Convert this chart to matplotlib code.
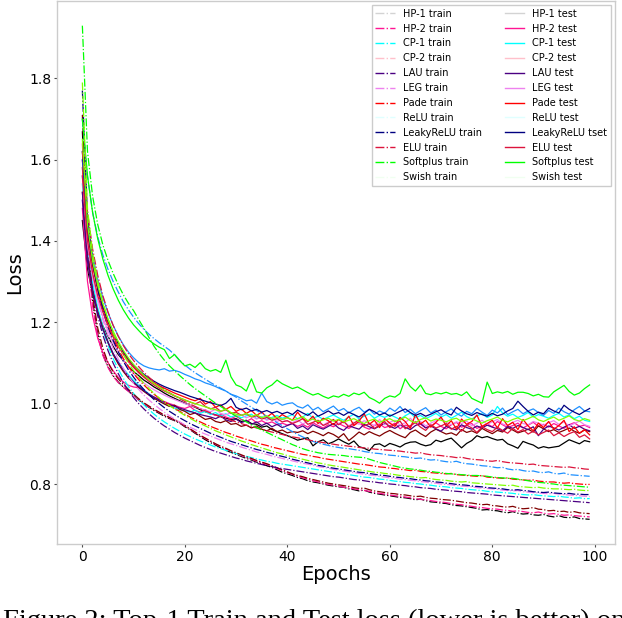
import matplotlib
matplotlib.use("Agg")
import matplotlib.pyplot as plt
from matplotlib.lines import Line2D

# epochs 0..99
epochs = list(range(100))

names = ["HP-1", "HP-2", "CP-1", "CP-2", "LAU", "LEG",
         "Pade", "ReLU", "LeakyReLU", "ELU", "Softplus", "Swish"]

# colours used for the curves
line_colors = ["black", "deeppink", "cyan", "maroon", "indigo", "violet",
               "red", "dodgerblue", "navy", "crimson", "lime", "chartreuse"]

# colours shown in the legend (they differ from the curves in the original)
legend_colors = ["lightgray", "deeppink", "cyan", "pink", "indigo", "violet",
                 "red", "lightcyan", "navy", "crimson", "lime", "honeydew"]

test_labels = ["HP-1 test", "HP-2 test", "CP-1 test", "CP-2 test", "LAU test",
               "LEG test", "Pade test", "ReLU test", "LeakyReLU tset",
               "ELU test", "Softplus test", "Swish test"]

# ---- train losses ----
hp1_train = [
    1.670, 1.380, 1.250, 1.170, 1.120, 1.090, 1.068, 1.052, 1.040, 1.030,
    1.020, 1.008, 0.998, 0.990, 0.982, 0.975, 0.968, 0.962, 0.957, 0.951,
    0.942, 0.935, 0.926, 0.918, 0.910, 0.903, 0.897, 0.890, 0.884, 0.879,
    0.874, 0.869, 0.864, 0.860, 0.855, 0.851, 0.846, 0.842, 0.836, 0.830,
    0.826, 0.822, 0.817, 0.814, 0.809, 0.806, 0.804, 0.801, 0.798, 0.796,
    0.794, 0.793, 0.789, 0.787, 0.784, 0.786, 0.781, 0.778, 0.776, 0.774,
    0.772, 0.770, 0.768, 0.767, 0.765, 0.762, 0.764, 0.760, 0.757, 0.756,
    0.754, 0.753, 0.750, 0.748, 0.747, 0.745, 0.743, 0.741, 0.737, 0.738,
    0.736, 0.735, 0.732, 0.730, 0.733, 0.729, 0.727, 0.728, 0.725, 0.724,
    0.726, 0.722, 0.720, 0.723, 0.719, 0.718, 0.720, 0.716, 0.715, 0.714]
hp2_train = [
    1.640, 1.360, 1.240, 1.165, 1.118, 1.088, 1.066, 1.051, 1.039, 1.029,
    1.019, 1.008, 0.999, 0.991, 0.984, 0.977, 0.970, 0.964, 0.958, 0.952,
    0.944, 0.936, 0.928, 0.920, 0.913, 0.906, 0.899, 0.893, 0.887, 0.882,
    0.876, 0.871, 0.866, 0.862, 0.857, 0.853, 0.849, 0.844, 0.839, 0.834,
    0.829, 0.825, 0.820, 0.816, 0.813, 0.809, 0.806, 0.803, 0.800, 0.798,
    0.796, 0.793, 0.791, 0.789, 0.787, 0.785, 0.783, 0.780, 0.778, 0.776,
    0.774, 0.772, 0.771, 0.769, 0.767, 0.765, 0.763, 0.762, 0.760, 0.758,
    0.757, 0.755, 0.753, 0.751, 0.750, 0.748, 0.746, 0.744, 0.743, 0.741,
    0.740, 0.739, 0.737, 0.736, 0.734, 0.735, 0.733, 0.731, 0.730, 0.732,
    0.729, 0.727, 0.728, 0.726, 0.724, 0.725, 0.723, 0.722, 0.721, 0.720]
cp1_train = [
    1.560, 1.380, 1.290, 1.228, 1.180, 1.142, 1.110, 1.084, 1.061, 1.041,
    1.024, 1.009, 0.996, 0.984, 0.973, 0.963, 0.954, 0.946, 0.938, 0.931,
    0.924, 0.918, 0.912, 0.907, 0.902, 0.897, 0.892, 0.888, 0.884, 0.880,
    0.876, 0.872, 0.869, 0.866, 0.863, 0.860, 0.857, 0.855, 0.852, 0.850,
    0.848, 0.846, 0.844, 0.842, 0.840, 0.838, 0.836, 0.834, 0.832, 0.830,
    0.828, 0.826, 0.824, 0.822, 0.820, 0.818, 0.817, 0.815, 0.813, 0.812,
    0.810, 0.808, 0.807, 0.805, 0.804, 0.802, 0.801, 0.799, 0.798, 0.796,
    0.795, 0.794, 0.792, 0.791, 0.790, 0.788, 0.787, 0.786, 0.785, 0.783,
    0.782, 0.781, 0.780, 0.779, 0.778, 0.776, 0.775, 0.774, 0.775, 0.773,
    0.772, 0.771, 0.770, 0.771, 0.769, 0.768, 0.766, 0.767, 0.765, 0.765]
cp2_train = [
    1.710, 1.400, 1.265, 1.185, 1.135, 1.100, 1.077, 1.060, 1.046, 1.034,
    1.022, 1.011, 1.001, 0.993, 0.985, 0.978, 0.971, 0.965, 0.959, 0.953,
    0.945, 0.937, 0.929, 0.921, 0.914, 0.907, 0.900, 0.894, 0.889, 0.883,
    0.878, 0.873, 0.868, 0.864, 0.859, 0.855, 0.851, 0.846, 0.841, 0.836,
    0.831, 0.826, 0.822, 0.819, 0.815, 0.812, 0.809, 0.806, 0.803, 0.801,
    0.799, 0.797, 0.795, 0.792, 0.790, 0.791, 0.787, 0.784, 0.782, 0.780,
    0.778, 0.777, 0.775, 0.774, 0.772, 0.770, 0.771, 0.768, 0.766, 0.765,
    0.763, 0.762, 0.761, 0.759, 0.757, 0.755, 0.754, 0.752, 0.750, 0.751,
    0.748, 0.747, 0.745, 0.744, 0.746, 0.742, 0.740, 0.741, 0.743, 0.739,
    0.738, 0.735, 0.736, 0.733, 0.734, 0.731, 0.733, 0.730, 0.729, 0.728]
lau_train = [
    1.520, 1.360, 1.275, 1.215, 1.168, 1.130, 1.099, 1.073, 1.050, 1.031,
    1.014, 0.999, 0.986, 0.974, 0.963, 0.953, 0.944, 0.936, 0.928, 0.921,
    0.914, 0.908, 0.902, 0.896, 0.891, 0.886, 0.881, 0.877, 0.873, 0.869,
    0.865, 0.862, 0.858, 0.855, 0.852, 0.849, 0.846, 0.844, 0.841, 0.839,
    0.837, 0.835, 0.833, 0.831, 0.829, 0.827, 0.825, 0.823, 0.821, 0.819,
    0.818, 0.816, 0.814, 0.812, 0.811, 0.809, 0.807, 0.806, 0.804, 0.803,
    0.801, 0.800, 0.798, 0.797, 0.795, 0.794, 0.792, 0.791, 0.790, 0.788,
    0.787, 0.786, 0.784, 0.783, 0.782, 0.780, 0.779, 0.778, 0.777, 0.776,
    0.774, 0.773, 0.772, 0.771, 0.770, 0.769, 0.768, 0.767, 0.766, 0.765,
    0.764, 0.763, 0.762, 0.761, 0.760, 0.759, 0.758, 0.757, 0.756, 0.755]
leg_train = [
    1.600, 1.420, 1.320, 1.255, 1.205, 1.167, 1.135, 1.109, 1.086, 1.066,
    1.049, 1.034, 1.020, 1.008, 0.997, 0.987, 0.978, 0.969, 0.961, 0.954,
    0.947, 0.941, 0.935, 0.929, 0.924, 0.919, 0.914, 0.909, 0.904, 0.900,
    0.896, 0.892, 0.888, 0.884, 0.880, 0.877, 0.874, 0.870, 0.867, 0.864,
    0.861, 0.858, 0.855, 0.852, 0.850, 0.847, 0.844, 0.842, 0.840, 0.837,
    0.835, 0.833, 0.831, 0.829, 0.827, 0.825, 0.823, 0.822, 0.820, 0.818,
    0.816, 0.815, 0.813, 0.812, 0.810, 0.809, 0.807, 0.806, 0.804, 0.803,
    0.801, 0.800, 0.799, 0.797, 0.796, 0.795, 0.794, 0.792, 0.791, 0.790,
    0.789, 0.788, 0.786, 0.785, 0.784, 0.785, 0.782, 0.781, 0.780, 0.779,
    0.778, 0.777, 0.778, 0.776, 0.775, 0.774, 0.773, 0.772, 0.771, 0.770]
pade_train = [
    1.600, 1.440, 1.345, 1.280, 1.230, 1.192, 1.160, 1.133, 1.110, 1.090,
    1.073, 1.058, 1.045, 1.033, 1.022, 1.012, 1.003, 0.995, 0.987, 0.980,
    0.973, 0.966, 0.960, 0.954, 0.948, 0.943, 0.938, 0.933, 0.928, 0.924,
    0.919, 0.915, 0.911, 0.907, 0.903, 0.899, 0.896, 0.892, 0.889, 0.886,
    0.883, 0.880, 0.877, 0.874, 0.872, 0.869, 0.867, 0.864, 0.862, 0.860,
    0.858, 0.856, 0.854, 0.852, 0.850, 0.849, 0.847, 0.845, 0.843, 0.842,
    0.840, 0.839, 0.837, 0.836, 0.834, 0.835, 0.832, 0.831, 0.829, 0.828,
    0.827, 0.826, 0.827, 0.824, 0.823, 0.822, 0.821, 0.820, 0.822, 0.818,
    0.817, 0.816, 0.815, 0.816, 0.813, 0.812, 0.811, 0.810, 0.811, 0.808,
    0.807, 0.806, 0.806, 0.804, 0.803, 0.804, 0.802, 0.801, 0.800, 0.800]
relu_train = [
    1.700, 1.560, 1.470, 1.410, 1.365, 1.330, 1.300, 1.274, 1.250, 1.230,
    1.212, 1.196, 1.182, 1.170, 1.159, 1.149, 1.140, 1.131, 1.119, 1.105,
    1.094, 1.084, 1.075, 1.067, 1.059, 1.051, 1.044, 1.037, 1.030, 1.022,
    1.015, 1.006, 0.998, 0.990, 0.982, 0.975, 0.967, 0.960, 0.952, 0.945,
    0.937, 0.930, 0.923, 0.917, 0.911, 0.906, 0.902, 0.899, 0.896, 0.893,
    0.891, 0.889, 0.888, 0.886, 0.884, 0.881, 0.879, 0.877, 0.876, 0.874,
    0.872, 0.871, 0.869, 0.868, 0.866, 0.864, 0.865, 0.862, 0.860, 0.861,
    0.858, 0.856, 0.855, 0.857, 0.853, 0.851, 0.850, 0.848, 0.846, 0.845,
    0.843, 0.841, 0.842, 0.838, 0.836, 0.837, 0.834, 0.832, 0.833, 0.830,
    0.829, 0.831, 0.827, 0.826, 0.828, 0.824, 0.823, 0.822, 0.821, 0.820]
leaky_train = [
    1.770, 1.460, 1.350, 1.280, 1.228, 1.188, 1.155, 1.127, 1.103, 1.082,
    1.064, 1.048, 1.034, 1.021, 1.009, 0.999, 0.989, 0.980, 0.972, 0.964,
    0.957, 0.950, 0.944, 0.938, 0.932, 0.926, 0.921, 0.916, 0.911, 0.906,
    0.902, 0.898, 0.894, 0.890, 0.886, 0.883, 0.879, 0.876, 0.872, 0.869,
    0.866, 0.862, 0.859, 0.856, 0.853, 0.850, 0.847, 0.845, 0.842, 0.840,
    0.838, 0.836, 0.834, 0.832, 0.830, 0.829, 0.827, 0.825, 0.823, 0.822,
    0.820, 0.818, 0.817, 0.815, 0.814, 0.812, 0.811, 0.809, 0.808, 0.806,
    0.805, 0.803, 0.802, 0.800, 0.799, 0.798, 0.796, 0.795, 0.794, 0.792,
    0.791, 0.790, 0.789, 0.787, 0.786, 0.787, 0.785, 0.784, 0.782, 0.781,
    0.780, 0.781, 0.779, 0.778, 0.777, 0.778, 0.776, 0.776, 0.775, 0.775]
elu_train = [
    1.620, 1.470, 1.380, 1.315, 1.265, 1.225, 1.192, 1.165, 1.142, 1.122,
    1.105, 1.090, 1.076, 1.064, 1.053, 1.043, 1.034, 1.026, 1.018, 1.011,
    1.004, 0.998, 0.992, 0.986, 0.981, 0.976, 0.971, 0.967, 0.962, 0.958,
    0.954, 0.950, 0.946, 0.943, 0.939, 0.936, 0.932, 0.929, 0.926, 0.923,
    0.920, 0.917, 0.915, 0.912, 0.910, 0.907, 0.905, 0.903, 0.901, 0.899,
    0.897, 0.896, 0.894, 0.893, 0.891, 0.890, 0.889, 0.887, 0.886, 0.885,
    0.884, 0.883, 0.882, 0.880, 0.879, 0.877, 0.878, 0.875, 0.873, 0.872,
    0.871, 0.869, 0.868, 0.866, 0.867, 0.864, 0.862, 0.861, 0.860, 0.858,
    0.857, 0.859, 0.856, 0.854, 0.853, 0.852, 0.851, 0.849, 0.850, 0.847,
    0.846, 0.845, 0.844, 0.843, 0.842, 0.843, 0.841, 0.840, 0.838, 0.837]
softplus_train = [
    1.930, 1.620, 1.510, 1.440, 1.390, 1.352, 1.320, 1.292, 1.267, 1.246,
    1.228, 1.206, 1.185, 1.162, 1.140, 1.122, 1.106, 1.092, 1.080, 1.068,
    1.057, 1.046, 1.036, 1.027, 1.018, 1.009, 1.000, 0.992, 0.984, 0.976,
    0.968, 0.961, 0.954, 0.947, 0.940, 0.934, 0.928, 0.922, 0.916, 0.910,
    0.904, 0.898, 0.893, 0.888, 0.884, 0.881, 0.878, 0.876, 0.874, 0.873,
    0.872, 0.871, 0.869, 0.868, 0.867, 0.866, 0.862, 0.858, 0.854, 0.851,
    0.848, 0.845, 0.842, 0.840, 0.838, 0.837, 0.835, 0.833, 0.832, 0.830,
    0.829, 0.827, 0.826, 0.825, 0.824, 0.823, 0.822, 0.822, 0.821, 0.820,
    0.818, 0.817, 0.816, 0.815, 0.815, 0.813, 0.811, 0.809, 0.807, 0.805,
    0.804, 0.802, 0.801, 0.799, 0.798, 0.797, 0.796, 0.795, 0.794, 0.793]
swish_train = [
    1.790, 1.480, 1.370, 1.300, 1.248, 1.207, 1.173, 1.145, 1.120, 1.099,
    1.080, 1.064, 1.049, 1.036, 1.024, 1.013, 1.003, 0.994, 0.986, 0.978,
    0.970, 0.963, 0.956, 0.950, 0.944, 0.938, 0.932, 0.927, 0.922, 0.917,
    0.912, 0.907, 0.903, 0.898, 0.894, 0.890, 0.886, 0.882, 0.878, 0.875,
    0.871, 0.868, 0.865, 0.862, 0.859, 0.856, 0.853, 0.851, 0.848, 0.846,
    0.844, 0.842, 0.840, 0.838, 0.836, 0.834, 0.832, 0.830, 0.829, 0.827,
    0.826, 0.824, 0.822, 0.821, 0.819, 0.818, 0.816, 0.817, 0.814, 0.812,
    0.811, 0.810, 0.808, 0.807, 0.806, 0.807, 0.804, 0.803, 0.802, 0.801,
    0.800, 0.799, 0.798, 0.797, 0.798, 0.795, 0.794, 0.793, 0.792, 0.793,
    0.791, 0.790, 0.789, 0.789, 0.788, 0.787, 0.788, 0.786, 0.785, 0.785]

# ---- test losses ----
hp1_test = [
    1.450, 1.330, 1.270, 1.225, 1.190, 1.165, 1.140, 1.120, 1.105, 1.090,
    1.078, 1.068, 1.057, 1.049, 1.040, 1.033, 1.025, 1.018, 1.012, 1.006,
    1.000, 0.995, 0.990, 0.984, 0.979, 0.975, 0.971, 0.967, 0.963, 0.960,
    0.962, 0.955, 0.958, 0.950, 0.948, 0.941, 0.944, 0.935, 0.930, 0.925,
    0.920, 0.915, 0.909, 0.912, 0.915, 0.895, 0.905, 0.910, 0.900, 0.905,
    0.912, 0.905, 0.899, 0.907, 0.893, 0.889, 0.883, 0.898, 0.900, 0.893,
    0.901, 0.897, 0.892, 0.900, 0.904, 0.905, 0.899, 0.895, 0.898, 0.909,
    0.905, 0.910, 0.914, 0.902, 0.890, 0.901, 0.908, 0.920, 0.915, 0.918,
    0.913, 0.909, 0.911, 0.900, 0.895, 0.889, 0.906, 0.901, 0.897, 0.889,
    0.893, 0.890, 0.892, 0.894, 0.902, 0.910, 0.905, 0.900, 0.908, 0.905]
hp2_test = [
    1.480, 1.300, 1.215, 1.160, 1.125, 1.100, 1.080, 1.064, 1.052, 1.044,
    1.040, 1.038, 1.032, 1.022, 1.015, 1.010, 1.004, 0.999, 0.995, 0.990,
    0.987, 0.992, 0.982, 0.978, 0.984, 0.975, 0.970, 0.973, 0.966, 0.962,
    0.968, 0.960, 0.955, 0.962, 0.952, 0.957, 0.950, 0.954, 0.947, 0.951,
    0.946, 0.950, 0.943, 0.948, 0.941, 0.952, 0.945, 0.939, 0.947, 0.942,
    0.950, 0.944, 0.938, 0.946, 0.953, 0.941, 0.936, 0.945, 0.949, 0.940,
    0.944, 0.951, 0.937, 0.946, 0.942, 0.955, 0.948, 0.940, 0.944, 0.952,
    0.943, 0.937, 0.947, 0.953, 0.941, 0.946, 0.950, 0.938, 0.944, 0.949,
    0.942, 0.955, 0.947, 0.940, 0.945, 0.951, 0.939, 0.946, 0.953, 0.943,
    0.948, 0.941, 0.950, 0.944, 0.938, 0.947, 0.952, 0.943, 0.946, 0.940]
cp1_test = [
    1.540, 1.380, 1.295, 1.235, 1.190, 1.152, 1.120, 1.102, 1.085, 1.070,
    1.056, 1.044, 1.033, 1.023, 1.014, 1.006, 0.999, 0.993, 0.988, 0.984,
    0.981, 0.978, 0.983, 0.975, 0.980, 0.972, 0.977, 0.969, 0.974, 0.966,
    0.971, 0.964, 0.969, 0.973, 0.962, 0.967, 0.960, 0.965, 0.970, 0.963,
    0.967, 0.972, 0.961, 0.966, 0.975, 0.963, 0.968, 0.960, 0.966, 0.971,
    0.964, 0.958, 0.966, 0.973, 0.961, 0.968, 0.974, 0.963, 0.970, 0.965,
    0.972, 0.966, 0.960, 0.969, 0.976, 0.964, 0.970, 0.962, 0.968, 0.975,
    0.966, 0.972, 0.963, 0.970, 0.978, 0.967, 0.961, 0.969, 0.974, 0.965,
    0.971, 0.992, 0.976, 0.968, 0.973, 0.965, 0.970, 0.977, 0.966, 0.972,
    0.968, 0.963, 0.970, 0.975, 0.966, 0.971, 0.962, 0.968, 0.958, 0.955]
cp2_test = [
    1.520, 1.360, 1.280, 1.225, 1.185, 1.150, 1.120, 1.097, 1.078, 1.062,
    1.050, 1.039, 1.029, 1.020, 1.012, 1.005, 0.998, 0.992, 0.995, 0.985,
    0.980, 0.972, 0.976, 0.968, 0.960, 0.963, 0.955, 0.952, 0.957, 0.948,
    0.950, 0.943, 0.946, 0.939, 0.944, 0.936, 0.932, 0.938, 0.930, 0.934,
    0.927, 0.930, 0.928, 0.932, 0.925, 0.931, 0.926, 0.920, 0.928, 0.923,
    0.915, 0.925, 0.908, 0.918, 0.929, 0.922, 0.930, 0.924, 0.919, 0.927,
    0.933, 0.926, 0.920, 0.915, 0.928, 0.934, 0.925, 0.918, 0.929, 0.936,
    0.930, 0.924, 0.927, 0.921, 0.935, 0.928, 0.932, 0.926, 0.938, 0.931,
    0.925, 0.933, 0.929, 0.940, 0.934, 0.927, 0.931, 0.936, 0.929, 0.944,
    0.937, 0.930, 0.935, 0.928, 0.933, 0.939, 0.931, 0.926, 0.934, 0.930]
lau_test = [
    1.500, 1.350, 1.275, 1.222, 1.182, 1.150, 1.123, 1.101, 1.082, 1.066,
    1.052, 1.041, 1.031, 1.022, 1.015, 1.008, 1.002, 0.997, 0.992, 0.988,
    0.984, 0.980, 0.976, 0.972, 0.969, 0.966, 0.962, 0.968, 0.959, 0.955,
    0.961, 0.952, 0.957, 0.948, 0.954, 0.945, 0.951, 0.942, 0.948, 0.940,
    0.945, 0.950, 0.938, 0.944, 0.935, 0.947, 0.941, 0.936, 0.943, 0.950,
    0.939, 0.933, 0.945, 0.940, 0.936, 0.948, 0.942, 0.937, 0.944, 0.951,
    0.943, 0.938, 0.946, 0.941, 0.935, 0.945, 0.950, 0.939, 0.944, 0.937,
    0.931, 0.943, 0.938, 0.934, 0.947, 0.940, 0.936, 0.944, 0.939, 0.946,
    0.941, 0.937, 0.932, 0.943, 0.938, 0.945, 0.940, 0.935, 0.942, 0.920,
    0.936, 0.944, 0.939, 0.934, 0.941, 0.947, 0.938, 0.943, 0.936, 0.932]
leg_test = [
    1.560, 1.390, 1.310, 1.255, 1.212, 1.178, 1.149, 1.125, 1.105, 1.088,
    1.073, 1.061, 1.050, 1.041, 1.033, 1.026, 1.020, 1.014, 1.009, 1.004,
    0.999, 0.995, 0.991, 0.987, 0.983, 0.979, 0.985, 0.975, 0.971, 0.977,
    0.968, 0.972, 0.964, 0.969, 0.961, 0.966, 0.958, 0.963, 0.955, 0.961,
    0.956, 0.952, 0.959, 0.949, 0.955, 0.962, 0.951, 0.946, 0.954, 0.958,
    0.950, 0.956, 0.944, 0.953, 0.948, 0.957, 0.951, 0.945, 0.960, 0.947,
    0.953, 0.958, 0.946, 0.952, 0.963, 0.950, 0.955, 0.944, 0.951, 0.957,
    0.962, 0.953, 0.947, 0.954, 0.950, 0.956, 0.944, 0.951, 0.958, 0.948,
    0.954, 0.960, 0.949, 0.945, 0.953, 0.958, 0.950, 0.947, 0.955, 0.951,
    0.946, 0.952, 0.957, 0.948, 0.954, 0.944, 0.950, 0.956, 0.947, 0.943]
pade_test = [
    1.580, 1.420, 1.338, 1.280, 1.236, 1.200, 1.170, 1.145, 1.124, 1.106,
    1.091, 1.078, 1.067, 1.058, 1.050, 1.043, 1.037, 1.031, 1.025, 1.020,
    1.015, 1.010, 1.006, 1.012, 0.998, 1.004, 0.990, 0.996, 0.985, 0.992,
    0.980, 0.986, 0.975, 0.982, 0.970, 0.978, 0.966, 0.975, 0.962, 0.972,
    0.965, 0.958, 0.978, 0.962, 0.955, 0.968, 0.950, 0.963, 0.957, 0.947,
    0.960, 0.952, 0.968, 0.945, 0.956, 0.974, 0.948, 0.958, 0.940, 0.962,
    0.951, 0.943, 0.965, 0.955, 0.938, 0.972, 0.949, 0.958, 0.941, 0.953,
    0.966, 0.944, 0.957, 0.936, 0.961, 0.948, 0.955, 0.971, 0.942, 0.950,
    0.958, 0.939, 0.962, 0.945, 0.953, 0.935, 0.960, 0.944, 0.932, 0.951,
    0.940, 0.955, 0.936, 0.945, 0.958, 0.930, 0.942, 0.926, 0.935, 0.922]
relu_test = [
    1.600, 1.450, 1.365, 1.305, 1.260, 1.223, 1.192, 1.166, 1.144, 1.126,
    1.112, 1.100, 1.092, 1.087, 1.084, 1.082, 1.085, 1.079, 1.081, 1.077,
    1.071, 1.066, 1.060, 1.056, 1.050, 1.046, 1.041, 1.035, 1.030, 1.022,
    1.018, 1.012, 1.006, 1.008, 1.000, 1.025, 1.004, 0.998, 1.003, 0.995,
    0.999, 1.001, 0.992, 0.988, 0.996, 0.983, 0.990, 0.979, 0.986, 0.993,
    0.981, 0.987, 0.976, 0.984, 0.990, 0.978, 0.985, 0.973, 0.981, 0.975,
    0.988, 0.980, 0.992, 0.977, 0.985, 0.974, 0.982, 0.989, 0.976, 0.983,
    0.971, 0.979, 0.986, 0.975, 0.968, 0.980, 0.974, 0.987, 0.978, 0.970,
    0.983, 0.976, 0.988, 0.972, 0.979, 0.985, 0.974, 0.981, 0.986, 0.977,
    0.970, 0.982, 0.975, 0.988, 0.979, 0.973, 0.984, 0.992, 0.981, 0.979]
leaky_test = [
    1.620, 1.430, 1.345, 1.285, 1.240, 1.203, 1.173, 1.148, 1.127, 1.109,
    1.094, 1.082, 1.071, 1.062, 1.054, 1.047, 1.041, 1.036, 1.031, 1.027,
    1.022, 1.017, 1.013, 1.009, 1.005, 1.001, 0.998, 0.994, 1.000, 1.012,
    0.990, 0.984, 0.988, 0.981, 0.985, 0.978, 0.982, 0.976, 0.980, 0.974,
    0.978, 0.972, 0.983, 0.976, 0.970, 0.979, 0.968, 0.974, 0.981, 0.973,
    0.977, 0.970, 0.978, 0.972, 0.966, 0.975, 0.985, 0.979, 0.971, 0.976,
    0.968, 0.974, 0.980, 0.986, 0.977, 0.970, 0.975, 0.968, 0.973, 0.979,
    0.984, 0.976, 0.971, 0.990, 0.981, 0.974, 0.970, 0.977, 0.972, 0.968,
    0.975, 0.969, 0.973, 0.981, 0.987, 1.005, 0.992, 0.980, 0.971, 0.978,
    0.974, 0.988, 0.981, 0.976, 0.995, 0.985, 0.978, 0.972, 0.980, 0.987]
elu_test = [
    1.560, 1.400, 1.320, 1.265, 1.225, 1.192, 1.164, 1.140, 1.120, 1.102,
    1.088, 1.075, 1.064, 1.054, 1.045, 1.037, 1.030, 1.024, 1.018, 1.013,
    1.008, 1.003, 0.998, 1.004, 0.992, 0.986, 0.990, 0.980, 0.984, 0.975,
    0.978, 0.970, 0.974, 0.966, 0.969, 0.961, 0.965, 0.958, 0.962, 0.954,
    0.957, 0.950, 0.955, 0.962, 0.948, 0.953, 0.958, 0.945, 0.951, 0.960,
    0.947, 0.955, 0.942, 0.951, 0.959, 0.944, 0.950, 0.938, 0.946, 0.955,
    0.940, 0.948, 0.956, 0.937, 0.945, 0.952, 0.941, 0.933, 0.947, 0.939,
    0.944, 0.950, 0.936, 0.943, 0.931, 0.946, 0.939, 0.928, 0.942, 0.935,
    0.930, 0.941, 0.933, 0.926, 0.938, 0.929, 0.935, 0.924, 0.931, 0.922,
    0.928, 0.934, 0.920, 0.927, 0.918, 0.925, 0.930, 0.916, 0.922, 0.912]
softplus_test = [
    1.700, 1.560, 1.470, 1.405, 1.355, 1.315, 1.282, 1.254, 1.230, 1.210,
    1.193, 1.179, 1.166, 1.155, 1.146, 1.138, 1.132, 1.110, 1.120, 1.105,
    1.092, 1.096, 1.088, 1.100, 1.085, 1.079, 1.083, 1.076, 1.106, 1.065,
    1.045, 1.040, 1.030, 1.060, 1.028, 1.025, 1.038, 1.045, 1.057, 1.048,
    1.042, 1.036, 1.040, 1.033, 1.026, 1.020, 1.024, 1.017, 1.012, 1.018,
    1.015, 1.022, 1.017, 1.025, 1.021, 1.027, 1.014, 1.008, 1.000, 1.012,
    1.018, 1.015, 1.024, 1.060, 1.041, 1.030, 1.045, 1.024, 1.021, 1.026,
    1.023, 1.027, 1.022, 1.024, 1.019, 1.028, 1.012, 1.006, 1.000, 1.052,
    1.024, 1.028, 1.025, 1.029, 1.022, 1.027, 1.027, 1.024, 1.018, 1.022,
    1.016, 1.015, 1.028, 1.036, 1.044, 1.029, 1.020, 1.025, 1.036, 1.045]
swish_test = [
    1.650, 1.440, 1.350, 1.290, 1.245, 1.208, 1.178, 1.152, 1.130, 1.111,
    1.095, 1.081, 1.069, 1.058, 1.048, 1.040, 1.032, 1.025, 1.019, 1.013,
    1.008, 1.003, 0.999, 0.995, 0.991, 0.987, 0.984, 0.980, 0.986, 0.977,
    0.973, 0.970, 0.975, 0.967, 0.972, 0.964, 0.969, 0.962, 0.966, 0.960,
    0.964, 0.958, 0.962, 0.967, 0.957, 0.961, 0.955, 0.959, 0.963, 0.956,
    0.960, 0.954, 0.958, 0.962, 0.955, 0.950, 0.957, 0.961, 0.953, 0.958,
    0.962, 0.955, 0.959, 0.966, 0.957, 0.952, 0.960, 0.964, 0.956, 0.961,
    0.958, 0.954, 0.960, 0.963, 0.955, 0.959, 0.962, 0.956, 0.951, 0.957,
    0.961, 0.966, 0.958, 0.954, 0.960, 0.964, 0.957, 0.962, 0.968, 0.959,
    0.955, 0.961, 0.966, 0.958, 0.963, 0.969, 0.960, 0.956, 0.962, 0.958]

train_runs = [hp1_train, hp2_train, cp1_train, cp2_train, lau_train, leg_train,
              pade_train, relu_train, leaky_train, elu_train, softplus_train,
              swish_train]
test_runs = [hp1_test, hp2_test, cp1_test, cp2_test, lau_test, leg_test,
             pade_test, relu_test, leaky_test, elu_test, softplus_test,
             swish_test]

for run in train_runs + test_runs:
    if len(run) != len(epochs):
        raise ValueError("series length mismatch: %d" % len(run))

fig = plt.figure(figsize=(6.22, 6.18), dpi=100)
ax = fig.add_axes([57 / 622, 74 / 618, 558 / 622, 543 / 618])

for i in range(len(names)):
    ax.plot(epochs, train_runs[i], linestyle="-.", color=line_colors[i], linewidth=0.9)
    ax.plot(epochs, test_runs[i], linestyle="-", color=line_colors[i], linewidth=0.9)

ax.set_xticks([0, 20, 40, 60, 80, 100])
ax.set_yticks([0.8, 1.0, 1.2, 1.4, 1.6, 1.8])
ax.tick_params(labelsize=10, length=2, width=0.8, color="0.3", pad=2)
for sp in ax.spines.values():
    sp.set_color("#cccccc")
    sp.set_linewidth(1.0)

ax.set_xlabel("Epochs", fontsize=14, labelpad=1)
ax.set_ylabel("Loss", fontsize=14)

# legend: train entries in the first column, test entries in the second
handles = []
for i in range(len(names)):
    handles.append(Line2D([], [], linestyle="-.", color=legend_colors[i], linewidth=1))
for i in range(len(names)):
    handles.append(Line2D([], [], linestyle="-", color=legend_colors[i], linewidth=1))
labels = [n + " train" for n in names] + test_labels
ax.legend(handles, labels, loc="upper right", ncol=2, fontsize=7,
          labelspacing=0.5, columnspacing=2.4, fancybox=False,
          edgecolor="#cccccc", framealpha=1, borderaxespad=0.4)

# caption of the paper figure, cut off by the image edge as in the source
fig.text(3 / 622, -0.016, "Figure 2: Top-1 Train and Test loss (lower is better) on",
         family="Liberation Serif", fontsize=20.5, va="baseline", ha="left")

fig.savefig("out.png", dpi=100)
